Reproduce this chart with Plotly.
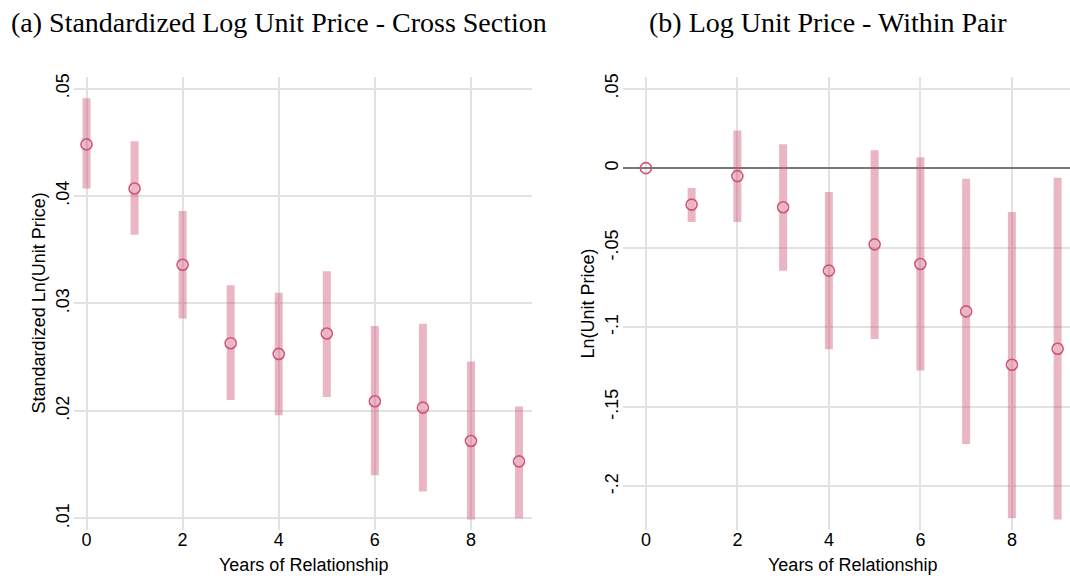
import plotly.graph_objects as go
from plotly.subplots import make_subplots

# Years of relationship
years = [0, 1, 2, 3, 4, 5, 6, 7, 8, 9]

# (a) Standardized log unit price, cross section: estimate and 95% CI
cs_est = [0.0448, 0.0407, 0.0336, 0.0263, 0.0253, 0.0272, 0.0209, 0.0203, 0.0172, 0.0153]
cs_lo = [0.0407, 0.0364, 0.0286, 0.0210, 0.0196, 0.0213, 0.0140, 0.0125, 0.0099, 0.0100]
cs_hi = [0.0491, 0.0451, 0.0386, 0.0317, 0.0310, 0.0330, 0.0279, 0.0281, 0.0246, 0.0204]

# (b) Log unit price, within pair: estimate and 95% CI (year 0 is the base)
wp_est = [0.0, -0.0229, -0.0050, -0.0246, -0.0644, -0.0479, -0.0602, -0.0900, -0.1235, -0.1135]
wp_lo = [0.0, -0.0338, -0.0338, -0.0644, -0.1138, -0.1073, -0.1271, -0.1733, -0.2200, -0.2208]
wp_hi = [0.0, -0.0125, 0.0236, 0.0150, -0.0150, 0.0113, 0.0069, -0.0067, -0.0275, -0.0060]

# Axis ticks
x_ticks = [0, 2, 4, 6, 8]
cs_ticks = [0.01, 0.02, 0.03, 0.04, 0.05]
cs_ticktext = [".01", ".02", ".03", ".04", ".05"]
wp_ticks = [-0.2, -0.15, -0.1, -0.05, 0.0, 0.05]
wp_ticktext = ["-.2", "-.15", "-.1", "-.05", "0", ".05"]

W, H = 1070, 576
CI_COLOR = "rgba(208,80,112,0.42)"
PT_COLOR = "rgb(206,84,116)"
GRID = "rgb(226,226,226)"
SANS = "Liberation Sans, Arial, sans-serif"
SERIF = "Liberation Serif, Times New Roman, serif"


def px_x(p):
    return p / W


def px_y(p):
    return 1 - p / H


fig = make_subplots(rows=1, cols=2)


def add_panel(col, est, lo, hi):
    plus = [h - e for h, e in zip(hi, est)]
    minus = [e - l for e, l in zip(est, lo)]
    fig.add_trace(
        go.Scatter(
            x=years,
            y=est,
            mode="markers",
            marker=dict(symbol="circle-open", size=11, color=PT_COLOR,
                        line=dict(width=1.6, color=PT_COLOR)),
            error_y=dict(type="data", symmetric=False, array=plus, arrayminus=minus,
                         color=CI_COLOR, thickness=8, width=0),
            showlegend=False,
            hoverinfo="skip",
        ),
        row=1, col=col,
    )


add_panel(1, cs_est, cs_lo, cs_hi)
add_panel(2, wp_est, wp_lo, wp_hi)

y_top, y_bot = 74, 530
common_x = dict(
    tickvals=x_ticks, ticktext=[str(v) for v in x_ticks],
    showgrid=True, gridcolor=GRID, gridwidth=1.5, zeroline=False,
    showline=False, ticks="", ticklabelstandoff=-3,
    tickfont=dict(family=SANS, size=18, color="black"),
)
common_y = dict(
    showgrid=True, gridcolor=GRID, gridwidth=1.5,
    showline=False, ticks="", ticklabelstandoff=0,
    tickangle=-90,
    tickfont=dict(family=SANS, size=18, color="black"),
)

fig.update_layout(
    width=W, height=H,
    margin=dict(l=0, r=0, t=0, b=0),
    paper_bgcolor="white", plot_bgcolor="white",
    xaxis=dict(domain=[px_x(74), px_x(532)], range=[-0.26, 9.27], **common_x),
    xaxis2=dict(domain=[px_x(623), 1.0], range=[-0.5, 9.27], **common_x),
    yaxis=dict(domain=[px_y(y_bot), px_y(y_top)], range=[0.00889, 0.05111],
               tickvals=cs_ticks, ticktext=cs_ticktext, zeroline=False, **common_y),
    yaxis2=dict(domain=[px_y(y_bot), px_y(y_top)], range=[-0.2275, 0.0575],
                tickvals=wp_ticks, ticktext=wp_ticktext,
                zeroline=True, zerolinecolor="rgb(120,120,120)", zerolinewidth=1.5,
                **common_y),
)

annotations = [
    dict(text="(a) Standardized Log Unit Price - Cross Section", x=px_x(279), y=px_y(20),
         font=dict(family=SERIF, size=28, color="black")),
    dict(text="(b) Log Unit Price - Within Pair", x=px_x(828), y=px_y(20),
         font=dict(family=SERIF, size=28, color="black")),
    dict(text="Years of Relationship", x=px_x(303), y=px_y(565),
         font=dict(family=SANS, size=18, color="black")),
    dict(text="Years of Relationship", x=px_x(852), y=px_y(565),
         font=dict(family=SANS, size=18, color="black")),
    dict(text="Standardized Ln(Unit Price)", x=px_x(39), y=px_y(302), textangle=-90,
         font=dict(family=SANS, size=18, color="black")),
    dict(text="Ln(Unit Price)", x=px_x(588), y=px_y(302), textangle=-90,
         font=dict(family=SANS, size=18, color="black")),
]
for a in annotations:
    a.update(xref="paper", yref="paper", xanchor="center", yanchor="middle", showarrow=False)
fig.update_layout(annotations=annotations)

fig.write_html("out.html")
